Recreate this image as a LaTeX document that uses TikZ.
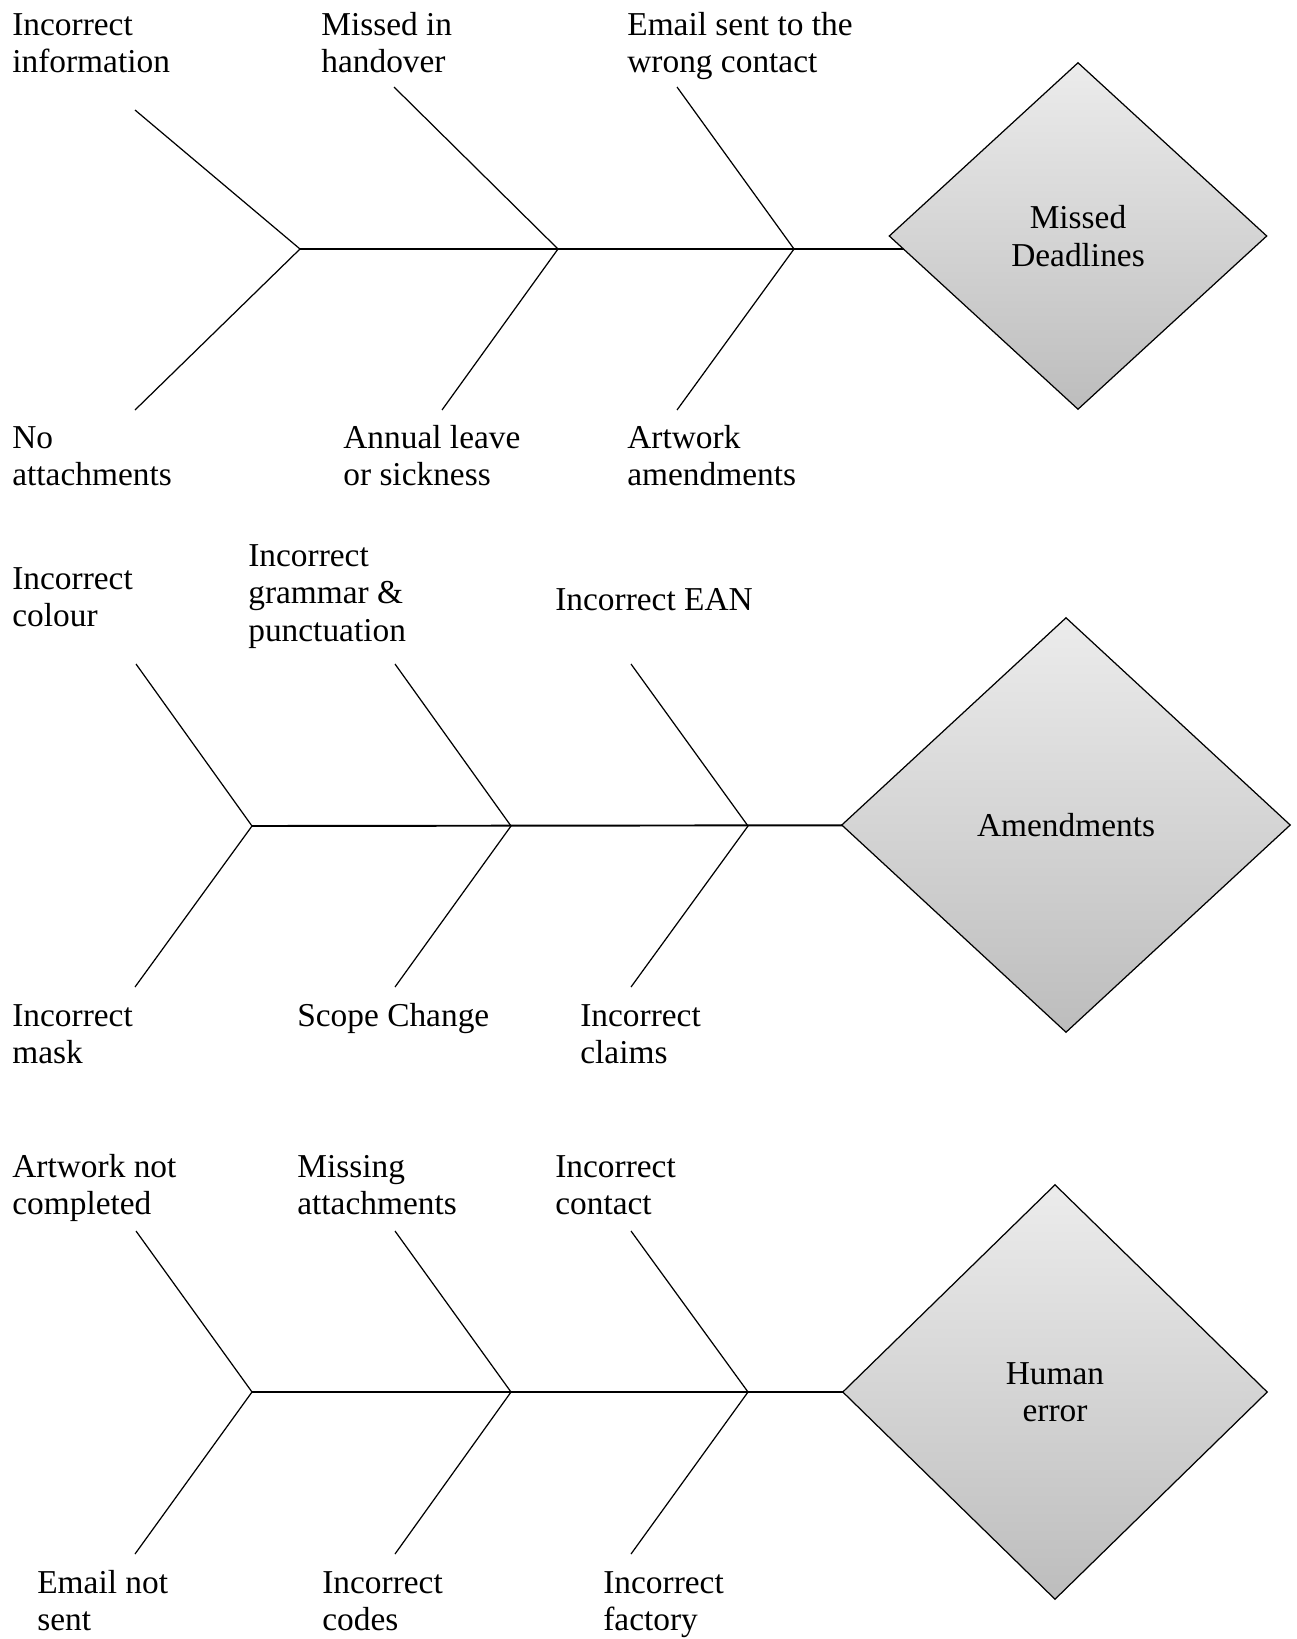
\documentclass[tikz,border=0pt]{standalone}
\usepackage{fontspec}
\setmainfont{Liberation Serif}
\usetikzlibrary{shapes.geometric, positioning, backgrounds}

\begin{document}
\begin{tikzpicture}[
    x=0.02cm, y=-0.02cm,
    cause/.style={anchor=base west, align=left, inner sep=0pt, font=\fontsize{19}{21.3}\selectfont},
    effect/.style={diamond, draw=black, line width=0.7pt, top color=gray!15, bottom color=gray!52, inner sep=0pt, align=center, font=\fontsize{19}{21.3}\selectfont},
    spine/.style={line width=1.1pt},
    bone/.style={line width=0.7pt}
]
\useasboundingbox (0,0) rectangle (1296,1639);

% Missed deadlines (labels sit on their last baseline)
\node[effect, minimum width=7.56cm, minimum height=6.94cm] (deadlines) at (1078,236) {Missed\\Deadlines};
\coordinate (d1) at (300,249);
\coordinate (d2) at (558,249);
\coordinate (d3) at (794,249);
\coordinate (du1) at (135,110);
\coordinate (du2) at (394,87);
\coordinate (du3) at (677,87);
\coordinate (dl1) at (135,410);
\coordinate (dl2) at (442,410);
\coordinate (dl3) at (677,410);
\node[cause] (info) at (12,72.5) {Incorrect\\information};
\node[cause] (handover) at (321,72.5) {Missed in\\handover};
\node[cause] (wrongmail) at (627,72.5) {Email sent to the\\wrong contact};
\node[cause] (noattach) at (12,485.5) {No\\attachments};
\node[cause] (leave) at (343,485.5) {Annual leave\\or sickness};
\node[cause] (artamend) at (627,485.5) {Artwork\\amendments};

% Amendments
\node[effect, minimum width=8.98cm, minimum height=8.3cm] (amend) at (1066,825) {Amendments};
\coordinate (a1) at (252,826);
\coordinate (a2) at (511,826);
\coordinate (a3) at (748,826);
\coordinate (au1) at (136,664);
\coordinate (au2) at (395,664);
\coordinate (au3) at (631,664);
\coordinate (al1) at (135,987);
\coordinate (al2) at (395,987);
\coordinate (al3) at (631,987);
\node[cause] (colour) at (12,626.5) {Incorrect\\colour};
\node[cause] (grammar) at (248,641) {Incorrect\\grammar \&\\punctuation};
\node[cause] (ean) at (555,610) {Incorrect EAN};
\node[cause] (mask) at (12,1063.5) {Incorrect\\mask};
\node[cause] (scope) at (297,1026) {Scope Change};
\node[cause] (claims) at (580,1063.5) {Incorrect\\claims};

% Human error
\node[effect, minimum width=8.5cm, minimum height=8.3cm] (human) at (1055,1392) {Human\\error};
\coordinate (h1) at (252,1392);
\coordinate (h2) at (511,1392);
\coordinate (h3) at (748,1392);
\coordinate (hu1) at (136,1231);
\coordinate (hu2) at (395,1231);
\coordinate (hu3) at (631,1231);
\coordinate (hl1) at (135,1554);
\coordinate (hl2) at (395,1554);
\coordinate (hl3) at (631,1554);
\node[cause] (notdone) at (12,1214.5) {Artwork not\\completed};
\node[cause] (missing) at (297,1214.5) {Missing\\attachments};
\node[cause] (contact) at (555,1214.5) {Incorrect\\contact};
\node[cause] (notsent) at (37,1630.5) {Email not\\sent};
\node[cause] (codes) at (322,1630.5) {Incorrect\\codes};
\node[cause] (factory) at (603,1630.5) {Incorrect\\factory};

% Bones
\begin{scope}[on background layer]
\draw[spine] (d1) -- (deadlines.center |- d1);
\draw[spine] (a1) -- (amend.center);
\draw[spine] (h1) -- (human.center);
\draw[bone] (du1) -- (d1) -- (dl1);
\draw[bone] (du2) -- (d2) -- (dl2);
\draw[bone] (du3) -- (d3) -- (dl3);
\draw[bone] (au1) -- (a1) -- (al1);
\draw[bone] (au2) -- (a2) -- (al2);
\draw[bone] (au3) -- (a3) -- (al3);
\draw[bone] (hu1) -- (h1) -- (hl1);
\draw[bone] (hu2) -- (h2) -- (hl2);
\draw[bone] (hu3) -- (h3) -- (hl3);
\end{scope}

\end{tikzpicture}
\end{document}
